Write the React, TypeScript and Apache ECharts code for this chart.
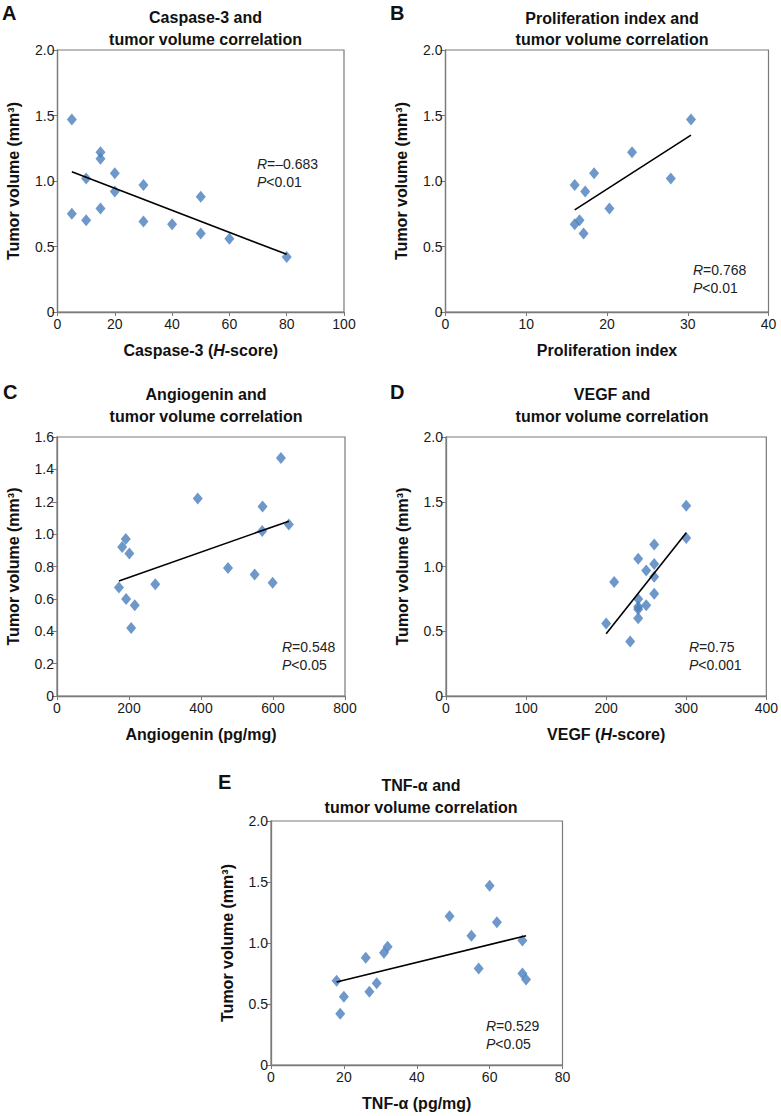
import React, { useEffect, useRef } from "react";
import * as echarts from "echarts";

const FONT = '"Liberation Sans", Arial, Helvetica, sans-serif';
const BLUE = "#4a7ebb";
const AXIS = "#7a7a7a";

// Tumor volume (mm³), shared order of readings
const caspaseX = [5, 15, 15, 20, 10, 20, 30, 50, 5, 10, 15, 30, 40, 50, 60, 80];
const caspaseY = [1.47, 1.22, 1.17, 1.06, 1.02, 0.92, 0.97, 0.88, 0.75, 0.7, 0.79, 0.69, 0.67, 0.6, 0.56, 0.42];
const caspaseTrend = [[5, 1.07], [80, 0.44]];

const prolifX = [30.4, 23.1, 18.4, 27.9, 16.0, 17.3, 20.3, 16.0, 16.6, 17.1];
const prolifY = [1.47, 1.22, 1.06, 1.02, 0.97, 0.92, 0.79, 0.67, 0.7, 0.6];
const prolifTrend = [[16, 0.78], [30.4, 1.35]];

const angioX = [622, 391, 571, 644, 570, 191, 181, 201, 475, 549, 599, 273, 172, 192, 216, 206];
const angioY = [1.47, 1.22, 1.17, 1.06, 1.02, 0.97, 0.92, 0.88, 0.79, 0.75, 0.7, 0.69, 0.67, 0.6, 0.56, 0.42];
const angioTrend = [[172, 0.71], [644, 1.08]];

const vegfX = [300, 300, 260, 240, 260, 250, 260, 210, 260, 240, 250, 240, 240, 240, 200, 230];
const vegfY = [1.47, 1.22, 1.17, 1.06, 1.02, 0.97, 0.92, 0.88, 0.79, 0.75, 0.7, 0.69, 0.67, 0.6, 0.56, 0.42];
const vegfTrend = [[200, 0.48], [300, 1.26]];

const tnfX = [60, 49, 62, 55, 69, 32, 31, 26, 57, 69, 70, 18, 29, 27, 20, 19];
const tnfY = [1.47, 1.22, 1.17, 1.06, 1.02, 0.97, 0.92, 0.88, 0.79, 0.75, 0.7, 0.69, 0.67, 0.6, 0.56, 0.42];
const tnfTrend = [[18, 0.68], [70, 1.06]];

const panelLetters = ["A", "B", "C", "D", "E"];
const panelTitles = [
  "Caspase-3 and\ntumor volume correlation",
  "Proliferation index and\ntumor volume correlation",
  "Angiogenin and\ntumor volume correlation",
  "VEGF and\ntumor volume correlation",
  "TNF-\u03b1 and\ntumor volume correlation",
];
const xNames = [
  "{b|Caspase-3 (}{i|H}{b|-score)}",
  "{b|Proliferation index}",
  "{b|Angiogenin (pg/mg)}",
  "{b|VEGF (}{i|H}{b|-score)}",
  "{b|TNF-\u03b1 (pg/mg)}",
];
const yName = "Tumor volume (mm\u00b3)";
const xRanges = [[0, 100, 20], [0, 40, 10], [0, 800, 200], [0, 400, 100], [0, 80, 20]];
const yRanges = [[0, 2, 0.5], [0, 2, 0.5], [0, 1.6, 0.2], [0, 2, 0.5], [0, 2, 0.5]];
const rValues = ["\u20130.683", "0.768", "0.548", "0.75", "0.529"];
const pValues = ["0.01", "0.01", "0.05", "0.001", "0.05"];

// layout (pixels)
const grids = [
  { left: 57.5, top: 50, width: 286.5, height: 262 },
  { left: 445.5, top: 50, width: 323, height: 262 },
  { left: 57, top: 437, width: 288, height: 259 },
  { left: 446, top: 437, width: 322, height: 259 },
  { left: 271, top: 821, width: 291.5, height: 244 },
];
const titlePos = [
  { x: 200.5, y: 2 },
  { x: 607, y: 2.5 },
  { x: 201, y: 379 },
  { x: 607, y: 379 },
  { x: 416, y: 770 },
];
const letterPos = [
  { x: 2, y: 3 },
  { x: 390, y: 3 },
  { x: 3, y: 382 },
  { x: 390, y: 382 },
  { x: 218, y: 772 },
];
const annotPos = [
  { x: 257, y: 157 },
  { x: 693, y: 263 },
  { x: 282, y: 640 },
  { x: 689, y: 640 },
  { x: 486, y: 1019 },
];

const allX = [caspaseX, prolifX, angioX, vegfX, tnfX];
const allY = [caspaseY, prolifY, angioY, vegfY, tnfY];
const allTrend = [caspaseTrend, prolifTrend, angioTrend, vegfTrend, tnfTrend];

export default function App() {
  const ref = useRef<HTMLDivElement>(null);
  useEffect(() => {
    if (!ref.current) return;
    const chart = echarts.init(ref.current, null, { renderer: "svg" });
    const grid: any[] = [];
    const xAxis: any[] = [];
    const yAxis: any[] = [];
    const series: any[] = [];
    const title: any[] = [];
    const graphic: any[] = [];
    for (let i = 0; i < 5; i++) {
      grid.push({
        ...grids[i],
        show: true,
        borderColor: AXIS,
        borderWidth: 1.2,
        backgroundColor: "transparent",
      });
      const [xmin, xmax, xint] = xRanges[i];
      const [ymin, ymax, yint] = yRanges[i];
      xAxis.push({
        type: "value",
        gridIndex: i,
        min: xmin,
        max: xmax,
        interval: xint,
        splitLine: { show: false },
        axisLine: { show: true, lineStyle: { color: AXIS, width: 1.3 } },
        axisTick: { show: true, inside: false, length: 4, lineStyle: { color: AXIS } },
        axisLabel: { fontFamily: FONT, fontSize: 14, color: "#1a1a1a", margin: 5 },
        name: xNames[i],
        nameLocation: "middle",
        nameGap: 30,
        nameTextStyle: {
          fontFamily: FONT,
          fontSize: 16,
          fontWeight: "bold",
          color: "#111",
          rich: {
            b: { fontFamily: FONT, fontSize: 16, fontWeight: "bold", color: "#111" },
            i: { fontFamily: FONT, fontSize: 16, fontWeight: "bold", fontStyle: "italic", color: "#111" },
          },
        },
      });
      yAxis.push({
        type: "value",
        gridIndex: i,
        min: ymin,
        max: ymax,
        interval: yint,
        splitLine: { show: false },
        axisLine: { show: true, lineStyle: { color: AXIS, width: 1.3 } },
        axisTick: { show: true, inside: false, length: 5, lineStyle: { color: AXIS } },
        axisLabel: {
          fontFamily: FONT,
          fontSize: 14,
          color: "#1a1a1a",
          margin: 3,
          formatter: (v: number) => (v === 0 ? "0" : v.toFixed(1)),
        },
        name: yName,
        nameLocation: "middle",
        nameRotate: 90,
        nameGap: 36,
        nameTextStyle: { fontFamily: FONT, fontSize: 16, fontWeight: "bold", color: "#111" },
      });
      series.push({
        type: "scatter",
        xAxisIndex: i,
        yAxisIndex: i,
        symbol: "diamond",
        symbolSize: [10, 12],
        itemStyle: { color: BLUE },
        data: allX[i].map((x, k) => [x, allY[i][k]]),
        z: 3,
      });
      series.push({
        type: "line",
        xAxisIndex: i,
        yAxisIndex: i,
        data: allTrend[i],
        symbol: "none",
        lineStyle: { color: "#000", width: 1.6 },
        z: 4,
      });
      title.push({
        text: panelTitles[i],
        left: titlePos[i].x,
        top: titlePos[i].y,
        textAlign: "center",
        textStyle: {
          fontFamily: FONT,
          fontSize: 16,
          fontWeight: "bold",
          color: "#111",
          lineHeight: 21.6,
        },
      });
      graphic.push({
        type: "text",
        left: letterPos[i].x,
        top: letterPos[i].y,
        style: {
          text: panelLetters[i],
          font: `bold 20px ${FONT}`,
          fill: "#111",
        },
      });
      graphic.push({
        type: "text",
        left: annotPos[i].x,
        top: annotPos[i].y,
        style: {
          text: `{i|R}{n|=${rValues[i]}}\n{i|P}{n|<${pValues[i]}}`,
          rich: {
            i: { fontFamily: FONT, fontSize: 14, fontStyle: "italic", fill: "#222", lineHeight: 17.5 },
            n: { fontFamily: FONT, fontSize: 14, fill: "#222", lineHeight: 17.5 },
          },
        },
      });
    }
    chart.setOption({
      animation: false,
      backgroundColor: "#fff",
      grid,
      xAxis,
      yAxis,
      series,
      title,
      graphic,
    });
    return () => chart.dispose();
  }, []);
  return (
    <div
      ref={ref}
      style={{ position: "absolute", left: 0, top: 0, width: 781, height: 1116 }}
    />
  );
}
